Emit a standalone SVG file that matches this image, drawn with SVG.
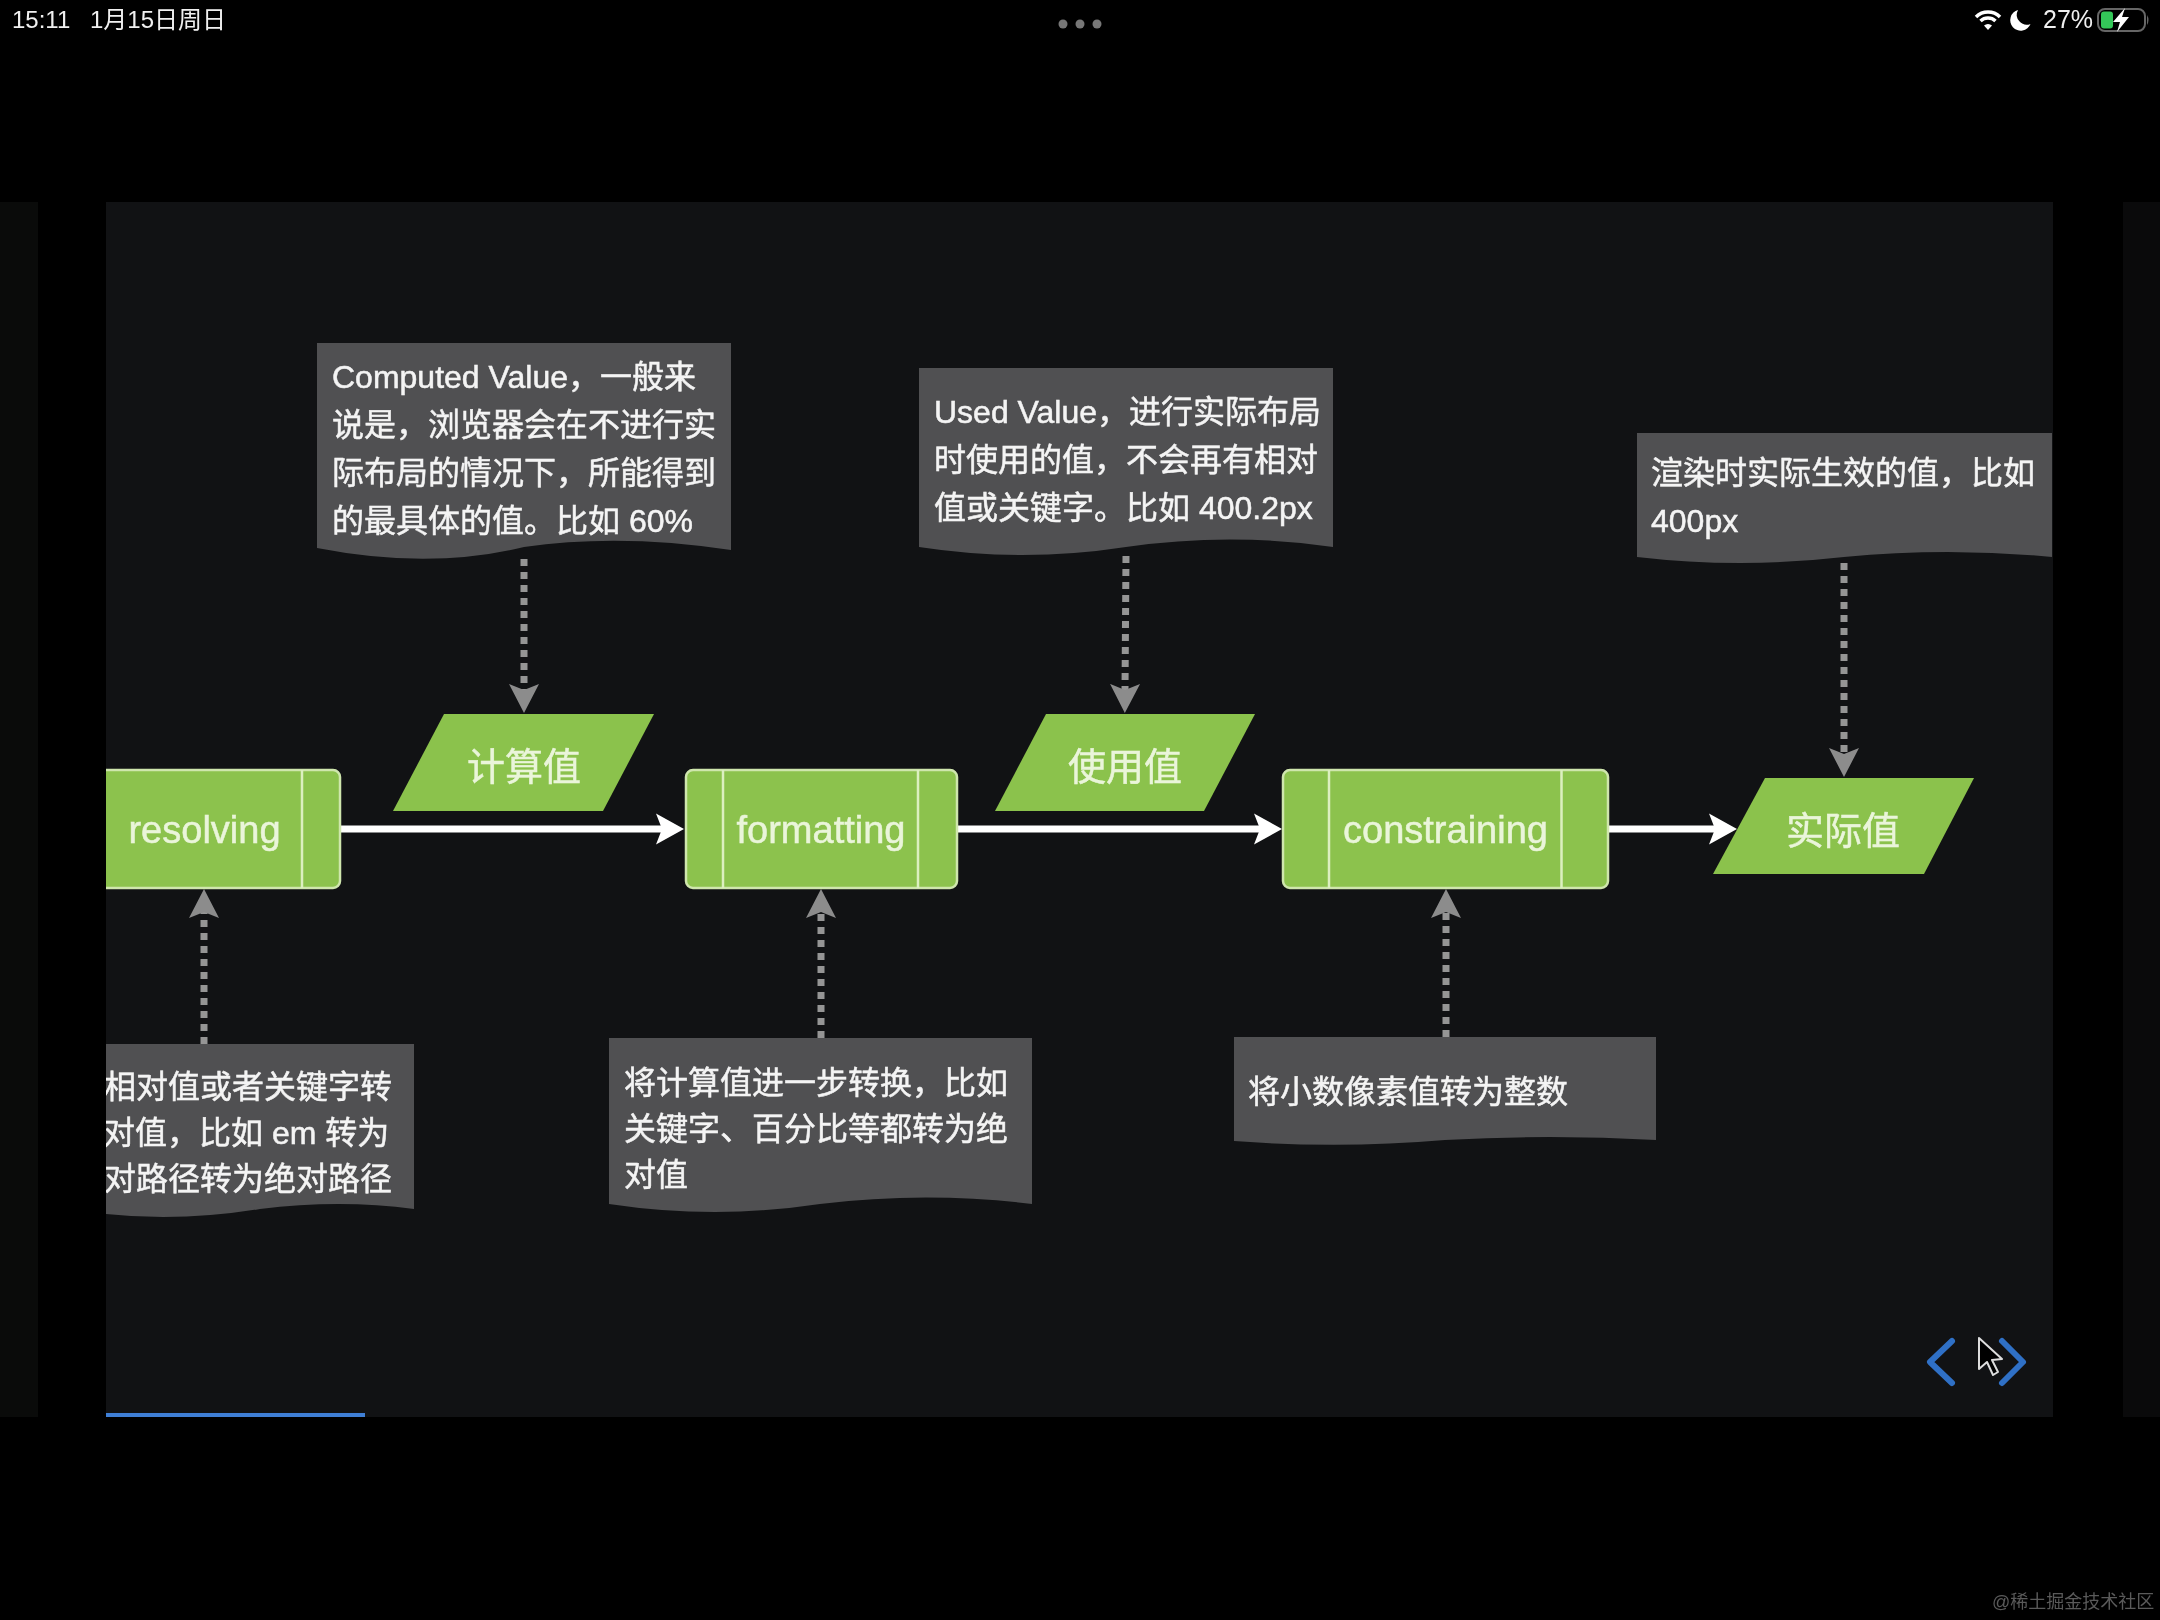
<svg xmlns="http://www.w3.org/2000/svg" width="2160" height="1620" viewBox="0 0 2160 1620">
<style>
text{font-family:"Liberation Sans","Noto Sans CJK SC",sans-serif}
.note{fill:#505052}
.nt{font-size:32px;fill:#f4f4f4;stroke:#f4f4f4;stroke-width:0.5}
.box{fill:#8cc24d;stroke:#cfe6ad;stroke-width:2.5}
.div{stroke:#dcefc0;stroke-width:2.5;fill:none}
.para{fill:#8bc24c}
.lbl{font-size:38px;fill:#eaf5da;stroke:#eaf5da;stroke-width:0.5;text-anchor:middle}
.flow{stroke:#fff;stroke-width:7;fill:none;marker-end:url(#wh)}
.dash{stroke:#959595;stroke-width:7;stroke-dasharray:7 6;fill:none;marker-end:url(#gr)}
.st{font-size:24px;fill:#f0f0f0}
.chev{stroke:#2f70c6;stroke-width:6;fill:none;stroke-linecap:round;stroke-linejoin:round}
</style>
<defs>
<marker id="wh" markerUnits="userSpaceOnUse" markerWidth="30" markerHeight="33" refX="6" refY="16" orient="auto"><path d="M0,0.5 L28,16 L0,31.500 L6,16 Z" fill="#fff"/></marker>
<marker id="gr" markerUnits="userSpaceOnUse" markerWidth="31" markerHeight="33" refX="6" refY="16" orient="auto"><path d="M0,1 L29,16 L0,31 L6,16 Z" fill="#8c8c8c"/></marker>
<clipPath id="slide"><rect x="106" y="202" width="1947" height="1215"/></clipPath>
<filter id="soft" x="0" y="0" width="100%" height="100%" color-interpolation-filters="sRGB"><feGaussianBlur stdDeviation="0.6"/></filter>
</defs>
<rect width="2160" height="1620" fill="#000"/>
<g filter="url(#soft)">
<g id="screen">
<rect x="0" y="202" width="38" height="1215" fill="#0a0b0a"/>
<rect x="2123" y="202" width="37" height="1215" fill="#0a0a0b"/>
<rect x="106" y="202" width="1947" height="1215" fill="#111214"/>
<rect x="106" y="1413" width="259" height="4" fill="#3f7fd6"/>
</g>
<g id="statusbar">
<text class="st" x="12" y="28">15:11</text>
<text class="st" x="90" y="28">1月15日周日</text>
<circle cx="1063" cy="24" r="4.500" fill="#777"/><circle cx="1080" cy="24" r="4.500" fill="#777"/><circle cx="1097" cy="24" r="4.500" fill="#777"/>
<g fill="none" stroke="#fff" stroke-width="3.500"><path d="M1976,17 A17,17 0 0 1 2000,17"/><path d="M1980.500,21 A11,11 0 0 1 1995.500,21"/></g>
<path d="M1984,25.500 A6,6 0 0 1 1992,25.500 L1988,30 Z" fill="#fff"/>
<path d="M2018,10 A10.500,10.500 0 1 0 2030.500,24 A10,10 0 0 1 2018,10 Z" fill="#fff"/>
<text class="st" x="2043" y="28" style="font-size:25px">27%</text>
<rect x="2098" y="9" width="47" height="22" rx="7" fill="none" stroke="#666" stroke-width="2"/>
<path d="M2147,15 Q2150,20 2147,25 Z" fill="#666"/>
<rect x="2101" y="11.500" width="12" height="17" rx="3" fill="#34c759"/>
<path d="M2125,8 L2113,22 L2120,22 L2117,32 L2129,17 L2122,17 Z" fill="#fff"/>
</g>
<g id="connectors">
<path class="flow" d="M340,829 H662"/>
<path class="flow" d="M957,829 H1260"/>
<path class="flow" d="M1608,829 H1715"/>
<path class="dash" d="M524,559 V690"/>
<path class="dash" d="M1126,556 L1125,690"/>
<path class="dash" d="M1844,563 V754"/>
<path class="dash" d="M204,1044 V912"/>
<path class="dash" d="M821,1038 V912"/>
<path class="dash" d="M1446,1037 V912"/>
</g>
<g id="note-computed">
<path class="note" d="M317,343 H731 V550 Q620,533 524,547 Q430,570 317,548 Z"/>
<text class="nt" x="332" y="388">Computed Value，一般来</text>
<text class="nt" x="332" y="436">说是，浏览器会在不进行实</text>
<text class="nt" x="332" y="484">际布局的情况下，所能得到</text>
<text class="nt" x="332" y="532">的最具体的值。比如 60%</text>
</g>
<g id="note-used">
<path class="note" d="M919,368 H1333 V547 Q1230,532 1126,547 Q1022,563 919,547 Z"/>
<text class="nt" x="934" y="423">Used Value，进行实际布局</text>
<text class="nt" x="934" y="471">时使用的值，不会再有相对</text>
<text class="nt" x="934" y="519">值或关键字。比如 400.2px</text>
</g>
<g id="note-actual">
<path class="note" d="M1637,433 H2052 V557 Q1948,547 1844,557 Q1740,569 1637,557 Z"/>
<text class="nt" x="1651" y="484">渲染时实际生效的值，比如</text>
<text class="nt" x="1651" y="532">400px</text>
</g>
<g id="note-resolving" clip-path="url(#slide)">
<path class="note" d="M106,1044 H414 V1209 Q340,1199 260,1209 Q180,1222 106,1214 Z"/>
<text class="nt" x="104" y="1098">相对值或者关键字转</text>
<text class="nt" x="103" y="1144">对值，比如 em 转为</text>
<text class="nt" x="104" y="1190">对路径转为绝对路径</text>
</g>
<g id="note-formatting">
<path class="note" d="M609,1038 H1032 V1204 Q926,1191 820,1204 Q715,1220 609,1204 Z"/>
<text class="nt" x="624" y="1094">将计算值进一步转换，比如</text>
<text class="nt" x="624" y="1140">关键字、百分比等都转为绝</text>
<text class="nt" x="624" y="1186">对值</text>
</g>
<g id="note-constraining">
<path class="note" d="M1234,1037 H1656 V1140 Q1550,1134 1445,1140 Q1340,1149 1234,1141 Z"/>
<text class="nt" x="1248" y="1103">将小数像素值转为整数</text>
</g>
<g id="resolving" clip-path="url(#slide)">
<rect class="box" x="96" y="770" width="244" height="118" rx="7"/>
<path class="div" d="M302,770 V888"/>
<text class="lbl" x="204.500" y="843">resolving</text>
</g>
<g id="formatting">
<rect class="box" x="686" y="770" width="271" height="118" rx="7"/>
<path class="div" d="M723,770 V888 M918,770 V888"/>
<text class="lbl" x="821" y="843">formatting</text>
</g>
<g id="constraining">
<rect class="box" x="1283" y="770" width="325" height="118" rx="7"/>
<path class="div" d="M1329,770 V888 M1561.500,770 V888"/>
<text class="lbl" x="1445.500" y="843">constraining</text>
</g>
<g id="computed">
<polygon class="para" points="444,714 654,714 603,811 393,811"/>
<text class="lbl" x="524" y="780">计算值</text>
</g>
<g id="used">
<polygon class="para" points="1046,714 1255,714 1204,811 995,811"/>
<text class="lbl" x="1125" y="780">使用值</text>
</g>
<g id="actual">
<polygon class="para" points="1765,778 1974,778 1924,874 1713,874"/>
<text class="lbl" x="1843" y="844">实际值</text>
</g>
<g id="controls">
<path class="chev" d="M1952,1341 L1930,1362 L1952,1383"/>
<path class="chev" d="M2002,1341 L2023,1362 L2002,1383"/>
<path d="M1979,1338 V1369 L1987,1362 L1993,1375 L1998,1372 L1992,1360 L2002,1359 Z" fill="#000" stroke="#ddd" stroke-width="2" stroke-linejoin="round"/>
</g>
<text x="1992" y="1608" style="font-size:18px" fill="#5a5a5a">@稀土掘金技术社区</text>
</g>
</svg>
